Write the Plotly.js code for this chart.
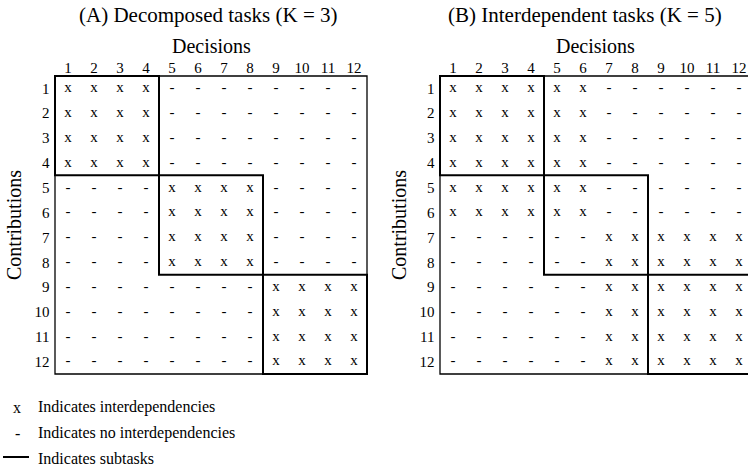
<!DOCTYPE html>
<html>
<head>
<meta charset="utf-8">
<script src="https://cdn.plot.ly/plotly-3.0.1.min.js"></script>
<style>html,body{margin:0;padding:0;background:#fff;}#chart{width:748px;height:466px;}</style>
</head>
<body>
<div id="chart"></div>
<script>
// ---- data ----
const decisions = ['1','2','3','4','5','6','7','8','9','10','11','12'];
const contributions = ['1','2','3','4','5','6','7','8','9','10','11','12'];
const matrixA = [
  'xxxx--------','xxxx--------','xxxx--------','xxxx--------',
  '----xxxx----','----xxxx----','----xxxx----','----xxxx----',
  '--------xxxx','--------xxxx','--------xxxx','--------xxxx'
];
const matrixB = [
  'xxxxxx------','xxxxxx------','xxxxxx------','xxxxxx------',
  'xxxxxx------','xxxxxx------',
  '------xxxxxx','------xxxxxx',
  '------xxxxxx','------xxxxxx','------xxxxxx','------xxxxxx'
];
const subtasksA = [[1,4],[5,8],[9,12]];
const subtasksB = [[1,4],[5,8],[9,12]];
const titleA = '(A) Decomposed tasks (K = 3)';
const titleB = '(B) Interdependent tasks (K = 5)';
const xTitle = 'Decisions';
const yTitle = 'Contributions';
const legendItems = [
  {sym:'x', label:'Indicates interdependencies'},
  {sym:'-', label:'Indicates no interdependencies'},
  {sym:'line', label:'Indicates subtasks'}
];

// ---- build ----
const W = 748, H = 466;
const FONT = 'Liberation Serif';
function cellTrace(matrix, xa, ya){
  const x=[], y=[], t=[];
  matrix.forEach((row,r)=>{ for(let c=0;c<row.length;c++){ x.push(c+1); y.push(r+1); t.push(row[c]); } });
  return {type:'scatter', mode:'text', x:x, y:y, text:t, xaxis:xa, yaxis:ya,
    textfont:{family:FONT, size:15, color:'#000'}, hoverinfo:'skip', showlegend:false, cliponaxis:false};
}
const traces = [cellTrace(matrixA,'x','y'), cellTrace(matrixB,'x2','y2')];

const shapes = [];
function boxes(subtasks, n, xr, yr){
  shapes.push({type:'rect', xref:xr, yref:yr, x0:0.5, x1:n+0.5, y0:0.5, y1:n+0.5, line:{color:'#000', width:1.3}});
  subtasks.forEach(s=>{
    shapes.push({type:'rect', xref:xr, yref:yr, x0:s[0]-0.5, x1:s[1]+0.5, y0:s[0]-0.5, y1:s[1]+0.5, line:{color:'#000', width:2}});
  });
}
boxes(subtasksA, decisions.length, 'x', 'y');
boxes(subtasksB, decisions.length, 'x2', 'y2');

const tickv = decisions.map((d,i)=>i+1);
function xax(domain, range, anchor){
  return {domain:domain, range:range, anchor:anchor, side:'top', tickvals:tickv, ticktext:decisions,
    showgrid:false, zeroline:false, showline:false, ticks:'', fixedrange:true,
    ticklabelstandoff:-2,
    tickfont:{family:FONT,size:15,color:'#000'}};
}
function yax(domain, anchor){
  return {domain:domain, range:[12.56,0.44], anchor:anchor, tickvals:tickv, ticktext:contributions,
    showgrid:false, zeroline:false, showline:false, ticks:'', fixedrange:true,
    ticklabelstandoff:3,
    tickfont:{family:FONT,size:15,color:'#000'},
    title:{text:yTitle, font:{family:FONT,size:20,color:'#000'}, standoff:7}};
}
const ydom = [(H-375.5)/H, (H-74.5)/H];

const annotations = [
  {text:titleA, xref:'paper', yref:'paper', x:208/W, y:1-15/H, xanchor:'center', yanchor:'middle', showarrow:false, font:{family:FONT,size:21,color:'#000'}},
  {text:titleB, xref:'paper', yref:'paper', x:585/W, y:1-15/H, xanchor:'center', yanchor:'middle', showarrow:false, font:{family:FONT,size:21,color:'#000'}},
  {text:xTitle, xref:'x domain', yref:'paper', x:0.5, y:1-46/H, xanchor:'center', yanchor:'middle', showarrow:false, font:{family:FONT,size:20,color:'#000'}},
  {text:xTitle, xref:'paper', yref:'paper', x:595/W, y:1-46/H, xanchor:'center', yanchor:'middle', showarrow:false, font:{family:FONT,size:20,color:'#000'}}
];
const legY = [407, 433, 458];
legendItems.forEach((it,i)=>{
  if(it.sym==='line'){
    shapes.push({type:'line', xref:'paper', yref:'paper', x0:3/W, x1:29/W, y0:1-(legY[i]-1)/H, y1:1-(legY[i]-1)/H, line:{color:'#000', width:2}});
  } else {
    annotations.push({text:it.sym, xref:'paper', yref:'paper', x:17/W, y:1-legY[i]/H, xanchor:'center', yanchor:'middle', showarrow:false, font:{family:FONT,size:16,color:'#000'}});
  }
  annotations.push({text:it.label, xref:'paper', yref:'paper', x:36/W, y:1-legY[i]/H, xanchor:'left', yanchor:'middle', showarrow:false, font:{family:FONT,size:16,color:'#000'}});
});

const layout = {
  width:W, height:H, margin:{l:0,r:0,t:0,b:0}, paper_bgcolor:'#fff', plot_bgcolor:'#fff',
  font:{family:FONT, color:'#000'}, showlegend:false,
  xaxis: xax([53.44/W, 368.56/W], [0.44,12.56], 'y'),
  yaxis: yax(ydom, 'x'),
  xaxis2: xax([438.44/W, 1], [0.44, 12.346], 'y2'),
  yaxis2: yax(ydom, 'x2'),
  shapes:shapes, annotations:annotations
};
Plotly.newPlot('chart', traces, layout, {staticPlot:true, displayModeBar:false});
</script>
</body>
</html>
